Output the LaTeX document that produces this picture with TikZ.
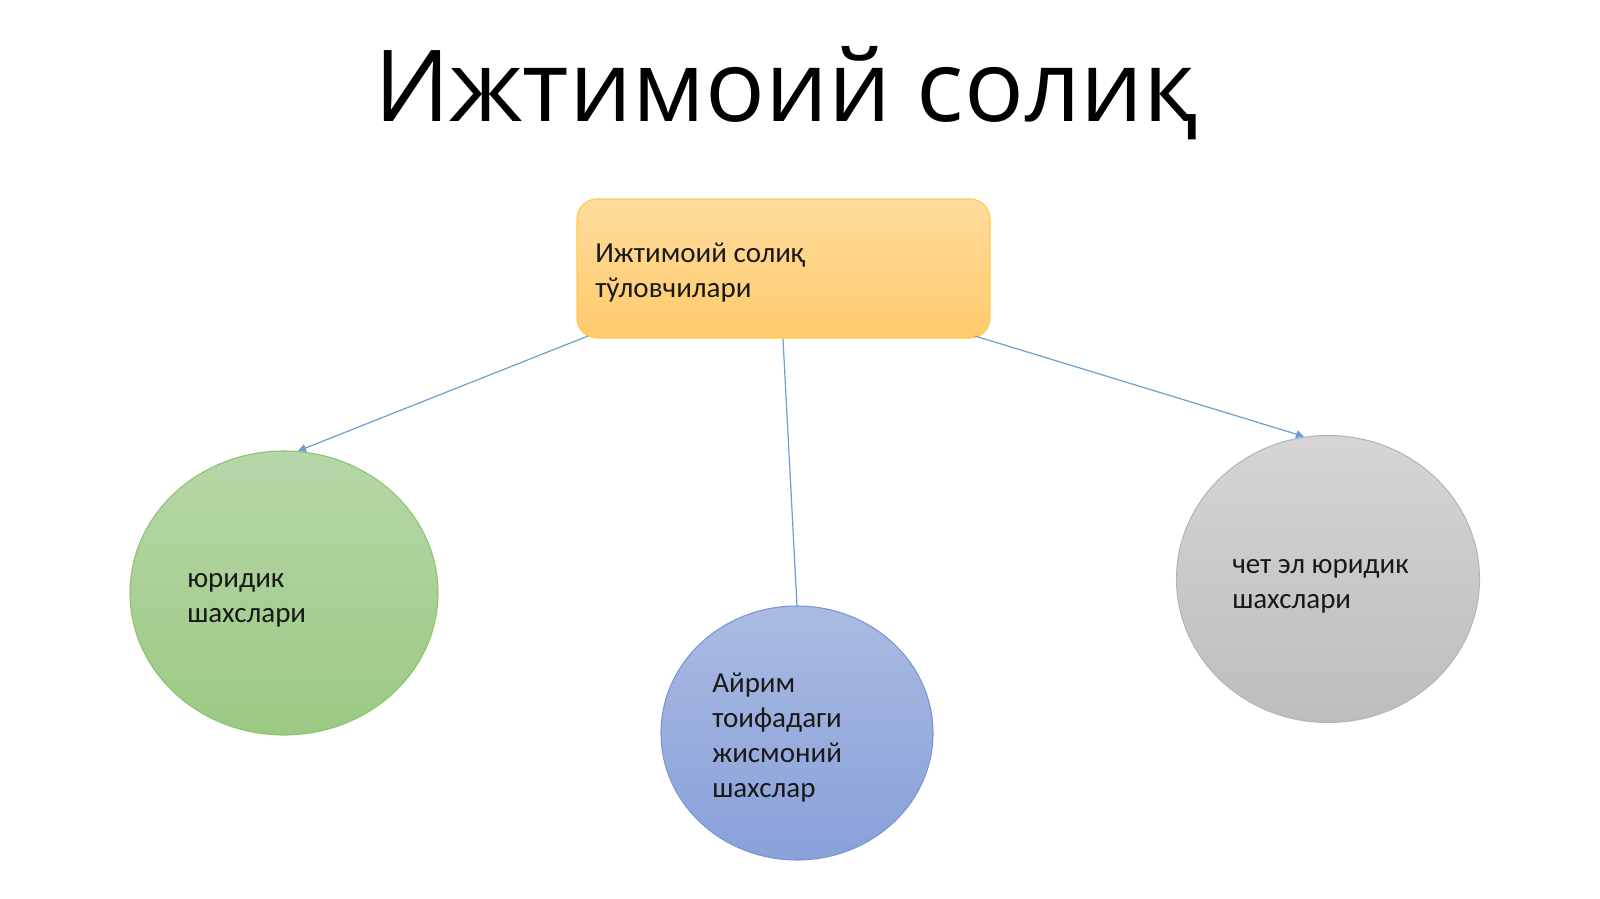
\documentclass[tikz,border=0pt]{standalone}
\usepackage{fontspec}
\setmainfont{Carlito}
\newfontfamily\titlefont{Open Sans}
\usetikzlibrary{shapes.geometric,arrows.meta}
\definecolor{linkc}{HTML}{6A9FD0}
\definecolor{orTop}{HTML}{FFDB9E}
\definecolor{orBot}{HTML}{FFCB6A}
\definecolor{orLine}{HTML}{FFC94A}
\definecolor{grTop}{HTML}{B6D7A8}
\definecolor{grBot}{HTML}{9BC983}
\definecolor{grLine}{HTML}{8EC272}
\definecolor{blTop}{HTML}{AABAE2}
\definecolor{blBot}{HTML}{88A1DA}
\definecolor{blLine}{HTML}{7A95D4}
\definecolor{gyTop}{HTML}{D5D5D5}
\definecolor{gyBot}{HTML}{BDBDBD}
\definecolor{gyLine}{HTML}{B5B5B5}
\tikzset{
  x=0.75pt, y=-0.75pt,
  bodytext/.style={font=\fontsize{21.75}{26.25}\selectfont, align=left, inner sep=0pt, anchor=base west, text=black!90},
  blob/.style={ellipse, draw, line width=0.8pt, inner sep=0pt},
  link/.style={draw=linkc, line width=0.9pt},
  linkarrow/.style={link, -{Triangle[length=6pt,width=6pt]}},
}
\begin{document}
\begin{tikzpicture}
\useasboundingbox (0,0) rectangle (1600,899);
\node[font=\titlefont\fontsize{74.5}{90}\selectfont, anchor=base, inner sep=0pt] (title) at (786,122) {Ижтимоий солиқ};
\node[rounded corners=15pt, draw=orLine, top color=orTop, bottom color=orBot, line width=0.8pt,
      minimum width=309.75pt, minimum height=104.25pt, inner sep=0pt] (root) at (783.5,268.5) {};
\node[bodytext] (roottext) at (595,297) {Ижтимоий солиқ\\тўловчилари};
\node[blob, draw=grLine, top color=grTop, bottom color=grBot, minimum width=231pt, minimum height=213pt] (legal) at (284,593) {};
\node[bodytext] (legaltext) at (187,622) {юридик\\шахслари};
\node[blob, draw=blLine, top color=blTop, bottom color=blBot, minimum width=204pt, minimum height=190.5pt] (phys) at (797,733) {};
\node[bodytext] (physttext) at (712,797) {Айрим\\тоифадаги\\жисмоний\\шахслар};
\node[blob, draw=gyLine, top color=gyTop, bottom color=gyBot, minimum width=227.25pt, minimum height=215.25pt] (foreign) at (1328,579) {};
\node[bodytext] (foreigntext) at (1232,608) {чет эл юридик\\шахслари};
\coordinate (rA) at (588,336);
\coordinate (rB) at (783,339);
\coordinate (rC) at (975,336);
\coordinate (lA) at (298,451);
\coordinate (lC) at (1304,436.5);
\draw[linkarrow] (rA) -- (lA);
\draw[link] (rB) -- (phys.north);
\draw[linkarrow] (rC) -- (lC);
\end{tikzpicture}
\end{document}
